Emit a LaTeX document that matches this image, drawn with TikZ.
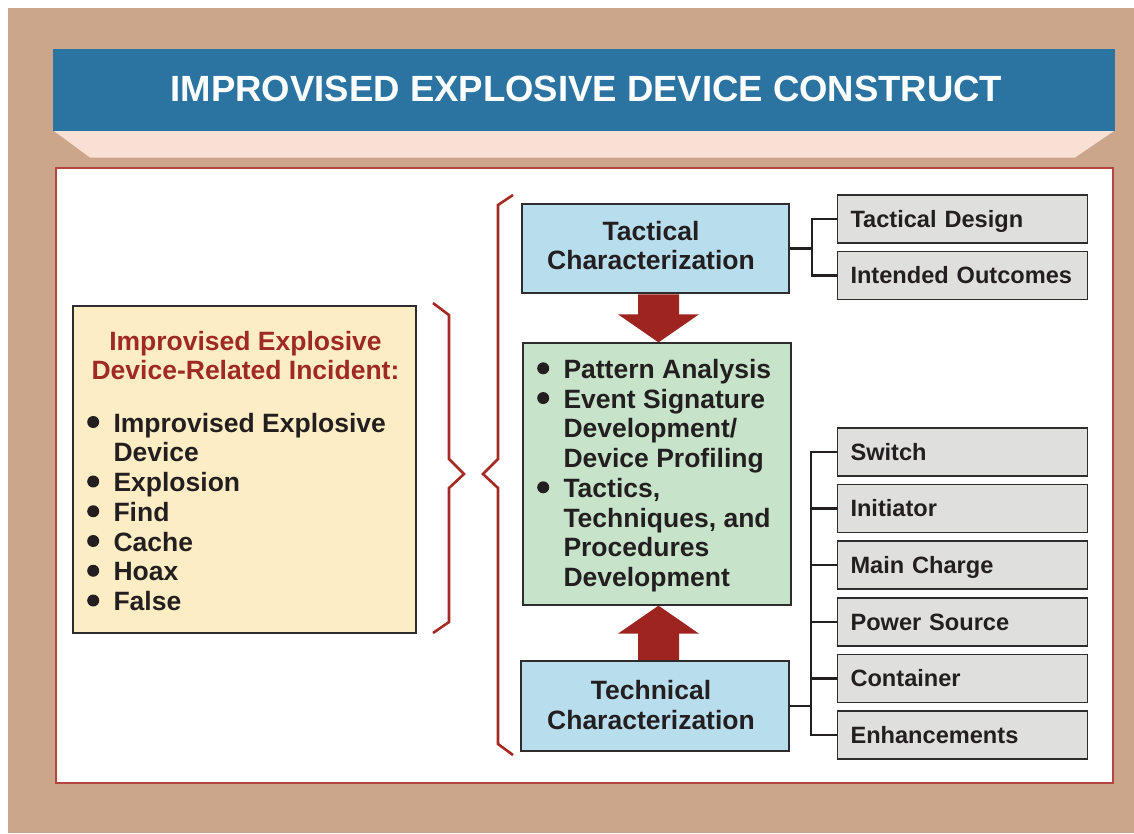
\documentclass[tikz,border=0pt]{standalone}
\usepackage{fontspec}
\setmainfont{Liberation Sans}
\usetikzlibrary{calc}
\definecolor{tanc}{HTML}{CBA68B}
\definecolor{bannerc}{HTML}{2B74A2}
\definecolor{pinkc}{HTML}{F9E0D5}
\definecolor{panelc}{HTML}{B5453E}
\definecolor{yelc}{HTML}{FDEDC5}
\definecolor{lbluec}{HTML}{B8DDEC}
\definecolor{grnc}{HTML}{C7E4CA}
\definecolor{grayc}{HTML}{DFDFDE}
\definecolor{arrc}{HTML}{9E2420}
\definecolor{bracec}{HTML}{A52A22}
\definecolor{headc}{HTML}{9E2A22}
\definecolor{txtc}{HTML}{231F20}
\definecolor{bordc}{HTML}{2E2C2C}
\newcommand\fs[2]{\fontsize{#1}{#2}\selectfont\bfseries}
\newcommand\bl{\llap{\raisebox{4pt}{\tikz\fill[txtc] (0,0) circle (6pt);}\hspace{14.3pt}}}
\begin{document}
\begin{tikzpicture}[x=1pt,y=-1pt,
  box/.style={draw=bordc, line width=1.3pt, inner sep=0pt},
  txt/.style={anchor=base, inner sep=0pt, text=txtc, font=\fs{26.5}{29.75}},
  lst/.style={anchor=base west, inner sep=0pt, text=txtc, font=\fs{26.5}{29.75}},
  gbox/.style={draw=bordc, fill=grayc, line width=1.3pt, text width=224pt, inner xsep=12.7pt, inner ysep=0pt, minimum height=48pt, text height=16.5pt, text depth=0pt, font=\fs{23.6}{28}, text=txtc, align=left},
  conn/.style={draw=txtc, line width=2.8pt},
  arr/.style={fill=arrc},
  brace/.style={draw=bracec, line width=2.6pt}]
\useasboundingbox (0,0) rectangle (1134,833);
\fill[white] (0,0) rectangle (1134,833);
\fill[tanc] (8,8) rectangle (1134,833);
% header
\fill[pinkc] (54,131) -- (1114,131) -- (1075,157.5) -- (90,157.5) -- cycle;
\node[fill=bannerc, inner sep=0pt, minimum width=1062, minimum height=82] (banner) at (584,90) {};
\node[inner sep=0pt, text=white, font=\fs{36.5}{40}, text height=26.1pt, text depth=0pt] (title) at (586.5,88.3) {IMPROVISED EXPLOSIVE DEVICE CONSTRUCT};
% panel
\node[draw=panelc, fill=white, line width=1.6pt, inner sep=0pt, minimum width=1057, minimum height=615] (panel) at (584.5,475.5) {};
% left box
\node[box, fill=yelc, minimum width=343, minimum height=327] (inc) at (244.5,469.5) {};
\node[txt, text=headc] (inchead) at (245.5,350) {\begin{tabular}[t]{@{}c@{}}Improvised Explosive\\Device-Related Incident:\end{tabular}};
\node[lst] (inclist) at (113.3,432) {\begin{tabular}[t]{@{}l@{}}\bl Improvised Explosive\\Device\\\bl Explosion\\\bl Find\\\bl Cache\\\bl Hoax\\\bl False\end{tabular}};
% braces
\draw[brace] (433,303) -- (449,315) -- (449,459) -- (464,474) -- (449,488) -- (449,622) -- (433,633);
\draw[brace] (513,195) -- (498,205) -- (498,459) -- (483,474) -- (498,488) -- (498,744) -- (513,755);
% centre column
\node[box, fill=lbluec, minimum width=267, minimum height=89] (tac) at (655.5,248.5) {};
\node[txt] (tactxt) at (651,240) {\begin{tabular}[t]{@{}c@{}}Tactical\\Characterization\end{tabular}};
\node[box, fill=grnc, minimum width=268, minimum height=262] (grn) at (657,474) {};
\node[lst] (grnlist) at (563.3,378.3) {\begin{tabular}[t]{@{}l@{}}\bl Pattern Analysis\\\bl Event Signature\\Development/\\Device Profiling\\\bl Tactics,\\Techniques, and\\Procedures\\Development\end{tabular}};
\node[box, fill=lbluec, minimum width=268, minimum height=90] (tech) at (655,706) {};
\node[txt] (techtxt) at (651,699.3) {\begin{tabular}[t]{@{}c@{}}Technical\\Characterization\end{tabular}};
% block arrows
\coordinate (ax) at (658.5,0);
\path (tac.south -| ax) coordinate (d1) (grn.north -| ax) coordinate (d2)
      (grn.south -| ax) coordinate (d3) (tech.north -| ax) coordinate (d4);
\fill[arr] ($(d1)+(-20.5,0.6)$) -- ($(d2)+(-20.5,-28)$) -- ($(d2)+(-40.5,-28)$) -- (d2) -- ($(d2)+(40.5,-28)$) -- ($(d2)+(20.5,-28)$) -- ($(d1)+(20.5,0.6)$) -- cycle;
\fill[arr] ($(d4)+(-20.5,-0.6)$) -- ($(d3)+(-20.5,28)$) -- ($(d3)+(-40.5,28)$) -- (d3) -- ($(d3)+(40.5,28)$) -- ($(d3)+(20.5,28)$) -- ($(d4)+(20.5,-0.6)$) -- cycle;
% right boxes
\node[gbox] (td) at (962.5,219) {Tactical Design};
\node[gbox] (io) at (962.5,275.5) {Intended Outcomes};
\node[gbox] (sw) at (962.5,452) {Switch};
\node[gbox] (ini) at (962.5,508.5) {Initiator};
\node[gbox] (mc) at (962.5,565) {Main Charge};
\node[gbox] (ps) at (962.5,622) {Power Source};
\node[gbox] (con) at (962.5,678.5) {Container};
\node[gbox] (enh) at (962.5,735) {Enhancements};
% connectors
\coordinate (b1) at (812,0);
\coordinate (b2) at (811,0);
\draw[conn] (tac.east) -- (tac.east -| b1);
\draw[conn] (td.west) -- (td.west -| b1) -- (io.west -| b1) -- (io.west);
\draw[conn] (tech.east) -- (tech.east -| b2);
\draw[conn] (sw.west) -- (sw.west -| b2) -- (enh.west -| b2) -- (enh.west);
\foreach \n in {ini,mc,ps,con} \draw[conn] (\n.west) -- (\n.west -| b2);
\end{tikzpicture}
\end{document}
